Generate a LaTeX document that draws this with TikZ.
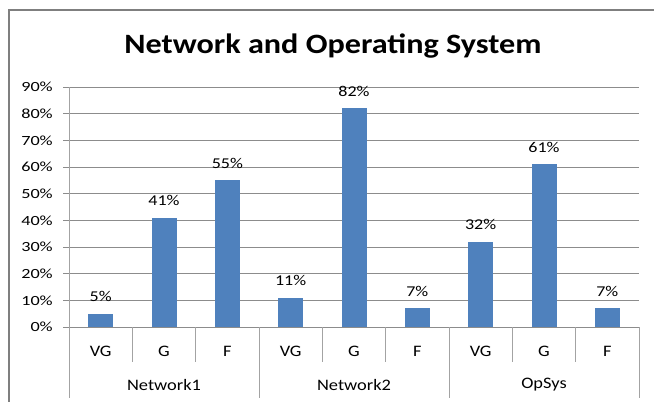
\documentclass[tikz,border=0pt]{standalone}
\usepackage{fontspec}
\setmainfont{Carlito}
\usepackage{tikz}
\definecolor{barblue}{HTML}{4F81BD}
\definecolor{gridgray}{HTML}{8C8C8C}
\definecolor{framegray}{HTML}{7F7F7F}

\begin{document}
\begin{tikzpicture}[x=1pt, y=-1pt,
    gridline/.style={gridgray, line width=0.9pt},
    axisline/.style={gridgray!80, line width=1pt},
    bar/.style={fill=barblue, draw=none},
    ticklabel/.style={font=\fontsize{14}{14}\selectfont, inner sep=0pt, xscale=1.3},
    vallabel/.style={font=\fontsize{15}{15}\selectfont, inner sep=0pt, anchor=base, xscale=1.2},
    catlabel/.style={font=\fontsize{16}{16}\selectfont, inner sep=0pt, xscale=1.15}]
    \useasboundingbox (0,0) rectangle (654,402);
    % chart frame (left and top edges only show)
    \draw[framegray, line width=1.2pt] (9,404) -- (9,10) -- (656,10);
    % title
    \node[font=\fontsize{28}{28}\selectfont\bfseries, anchor=base, inner sep=0pt, xscale=1.15]
        (title) at (333,53) {Network and Operating System};
    % gridlines and value axis labels: 10% = 26.67px
    \foreach \p in {0,10,...,90} {
        \draw[gridline] (63,327-2.6667*\p) -- (639,327-2.6667*\p);
        \node[ticklabel, anchor=east] (tick\p) at (53,327-2.6667*\p) {\p\%};
    }
    % value axis
    \draw[axisline] (69,87) -- (69,327);
    % bars with data labels
    \foreach \v [count=\i] in {5,41,55,11,82,7,32,61,7} {
        \fill[bar] (69+63.333*\i-31.667-12.5,327) rectangle ++(25,-2.6667*\v);
        \node[vallabel] (val\i) at (69+63.333*\i-31.667,327-2.6667*\v-12) {\v\%};
    }
    % category labels
    \foreach \c [count=\i] in {VG,G,F,VG,G,F,VG,G,F}
        \node[catlabel] (cat\i) at (69+63.333*\i-31.667,351) {\c};
    % group labels
    \foreach \g [count=\i] in {Network1,Network2,OpSys}
        \node[catlabel] (grp\i) at (69+190*\i-95,385) {\g};
    % separators between categories
    \foreach \i in {1,2,4,5,7,8}
        \draw[axisline] (69+63.333*\i,327) -- (69+63.333*\i,362);
    % separators between groups
    \foreach \i in {0,1,2,3}
        \draw[axisline] (69+190*\i,327) -- (69+190*\i,398);
\end{tikzpicture}
\end{document}
